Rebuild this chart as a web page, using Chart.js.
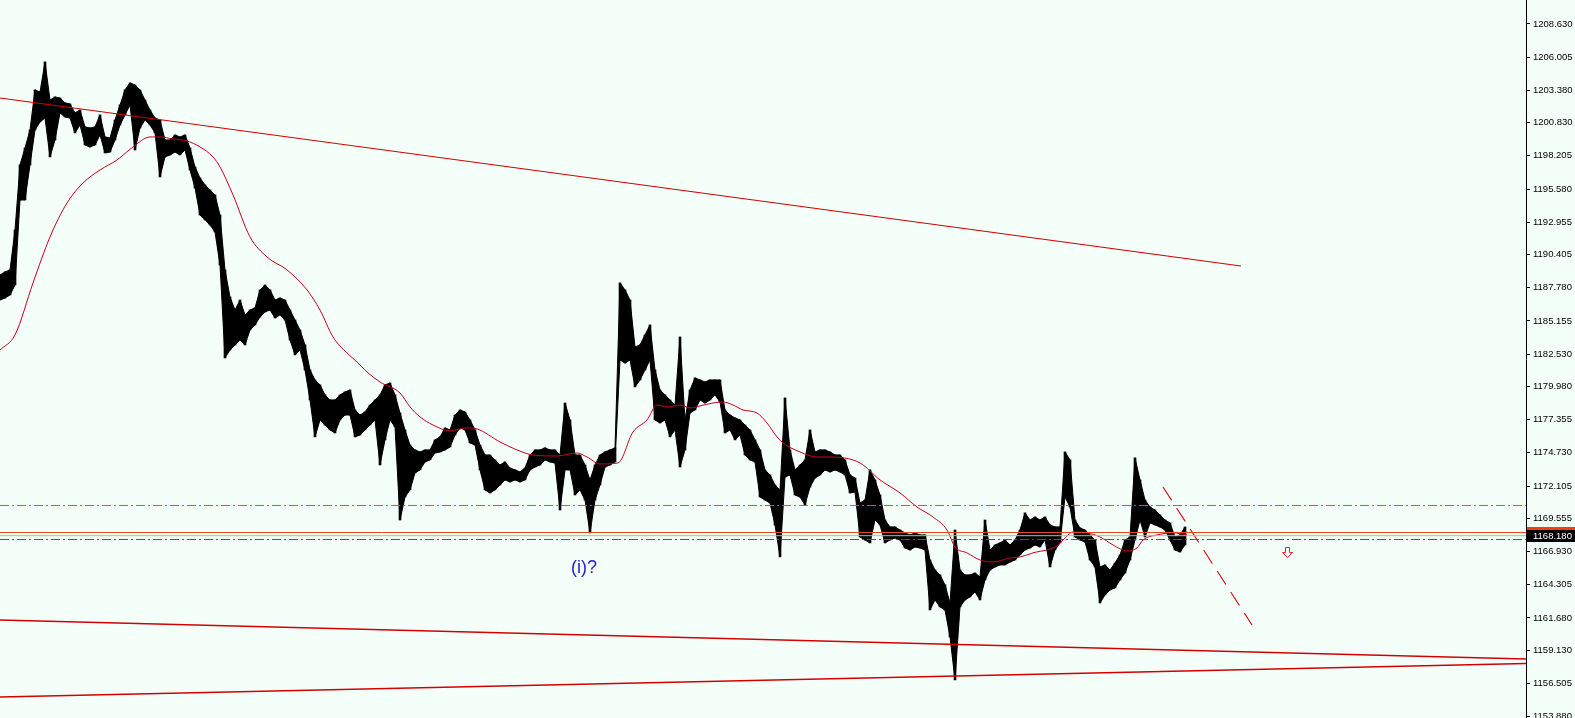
<!DOCTYPE html>
<html>
<head>
<meta charset="utf-8">
<script src="https://cdn.jsdelivr.net/npm/chart.js@4.4.1/dist/chart.umd.min.js"></script>
<style>
  html, body { margin: 0; padding: 0; background: #f5fffa; }
  #wrap { width: 1575px; height: 718px; position: relative; }
</style>
</head>
<body>
<div id="wrap"><canvas id="priceChart"></canvas></div>
<script>
// bar highs / lows, one bar per slot
const highs = [
  1188.79, 1189.03, 1189.19, 1192.35, 1197.49, 1198.83, 1200.25, 1203.42, 1203.26, 1205.63,
  1202.62, 1202.86, 1202.78, 1202.39, 1202.31, 1201.60, 1201.83, 1200.49, 1200.41, 1200.49,
  1201.44, 1199.70, 1199.62, 1201.04, 1202.23, 1203.42, 1203.97, 1203.81, 1203.42, 1202.62,
  1201.83, 1201.20, 1201.04, 1199.46, 1199.46, 1199.86, 1199.70, 1199.86, 1198.83, 1197.33,
  1196.46, 1195.91, 1195.51, 1195.12, 1193.53, 1189.19, 1187.05, 1186.02, 1186.81, 1185.63,
  1186.02, 1186.18, 1187.61, 1188.00, 1187.61, 1186.81, 1186.97, 1186.81, 1186.02, 1185.23,
  1184.44, 1183.26, 1181.28, 1180.49, 1180.10, 1179.31, 1178.91, 1178.91, 1179.31, 1179.54,
  1179.70, 1178.12, 1177.72, 1177.96, 1178.51, 1178.91, 1179.31, 1180.10, 1180.25, 1179.31,
  1177.88, 1176.54, 1175.35, 1174.96, 1174.80, 1174.96, 1174.96, 1175.75, 1175.99, 1176.70,
  1176.54, 1177.72, 1178.12, 1177.96, 1177.33, 1176.54, 1175.35, 1174.56, 1174.56, 1174.17,
  1173.77, 1174.01, 1173.53, 1173.38, 1173.22, 1173.53, 1174.56, 1174.96, 1174.96, 1175.12,
  1174.96, 1174.96, 1174.56, 1178.67, 1177.33, 1174.56, 1174.56, 1173.77, 1172.59, 1173.77,
  1174.56, 1174.80, 1174.96, 1175.12, 1188.16, 1187.61, 1186.81, 1183.10, 1183.26, 1184.05,
  1184.84, 1181.28, 1179.70, 1179.31, 1178.91, 1178.51, 1183.89, 1177.33, 1179.70, 1180.65,
  1180.49, 1180.33, 1180.49, 1180.49, 1180.49, 1178.12, 1177.72, 1177.49, 1177.33, 1176.93,
  1176.54, 1175.75, 1174.96, 1173.38, 1172.98, 1172.19, 1171.80, 1179.07, 1174.96, 1173.38,
  1173.77, 1174.17, 1176.54, 1174.80, 1174.96, 1174.96, 1174.80, 1174.56, 1174.56, 1174.17,
  1172.98, 1172.74, 1170.77, 1171.00, 1173.38, 1172.59, 1171.40, 1169.42, 1168.87, 1168.87,
  1168.63, 1168.40, 1168.24, 1168.40, 1168.24, 1168.24, 1166.26, 1165.47, 1165.08, 1164.29,
  1162.86, 1168.63, 1165.47, 1165.08, 1165.08, 1165.23, 1164.92, 1169.42, 1167.05, 1167.45,
  1167.61, 1167.84, 1167.45, 1167.84, 1168.63, 1169.98, 1169.42, 1169.66, 1169.42, 1169.66,
  1169.03, 1168.87, 1168.87, 1174.80, 1174.17, 1169.42, 1168.79, 1168.63, 1168.24, 1167.84,
  1165.71, 1165.87, 1165.47, 1166.02, 1166.66, 1167.84, 1168.08, 1174.33, 1172.59, 1171.00,
  1170.45, 1170.21, 1169.82, 1169.42, 1169.19, 1168.08, 1168.24, 1168.87
]
const lows = [
  1186.81, 1186.97, 1187.21, 1188.00, 1194.72, 1194.72, 1197.49, 1200.25, 1200.89, 1201.20,
  1198.12, 1199.46, 1201.60, 1201.28, 1201.20, 1200.02, 1200.65, 1199.07, 1198.91, 1199.07,
  1199.86, 1198.44, 1198.51, 1199.46, 1200.65, 1201.44, 1202.23, 1198.67, 1200.41, 1201.04,
  1200.65, 1200.02, 1196.54, 1198.12, 1198.28, 1198.51, 1198.28, 1198.67, 1197.09, 1195.67,
  1193.53, 1193.14, 1192.74, 1192.19, 1189.58, 1182.23, 1182.86, 1183.26, 1183.65, 1183.26,
  1184.44, 1184.84, 1185.47, 1185.87, 1186.02, 1185.39, 1185.63, 1185.23, 1183.65, 1182.47,
  1182.86, 1181.28, 1178.91, 1175.99, 1177.33, 1176.93, 1176.54, 1176.30, 1177.33, 1177.72,
  1177.72, 1175.99, 1176.14, 1176.54, 1176.93, 1177.33, 1173.77, 1175.75, 1177.33, 1176.78,
  1169.42, 1171.24, 1171.80, 1173.14, 1173.38, 1174.01, 1174.17, 1174.72, 1174.80, 1174.96,
  1175.19, 1176.14, 1176.70, 1176.54, 1175.51, 1175.35, 1173.38, 1171.80, 1171.56, 1171.80,
  1172.19, 1172.59, 1172.43, 1172.59, 1172.43, 1172.59, 1173.38, 1173.61, 1173.77, 1174.17,
  1174.01, 1173.93, 1170.21, 1173.38, 1173.38, 1171.40, 1171.80, 1171.00, 1168.40, 1171.00,
  1172.19, 1173.61, 1173.77, 1174.01, 1182.07, 1181.83, 1182.07, 1179.94, 1180.49, 1181.28,
  1182.07, 1177.33, 1177.09, 1177.33, 1175.99, 1176.54, 1173.61, 1174.96, 1177.88, 1178.12,
  1178.91, 1178.67, 1178.91, 1179.31, 1178.75, 1176.30, 1176.54, 1175.75, 1176.14, 1174.56,
  1174.17, 1174.01, 1171.24, 1171.00, 1170.77, 1169.03, 1166.50, 1172.82, 1172.98, 1171.40,
  1171.24, 1170.61, 1172.03, 1172.74, 1172.98, 1173.38, 1173.22, 1173.38, 1173.22, 1172.98,
  1171.56, 1171.64, 1168.08, 1167.84, 1167.61, 1169.42, 1169.03, 1167.61, 1167.84, 1168.00,
  1167.84, 1167.21, 1167.05, 1167.29, 1167.21, 1167.05, 1162.31, 1163.10, 1162.55, 1162.31,
  1160.18, 1156.78, 1162.55, 1163.10, 1163.34, 1163.73, 1163.10, 1164.68, 1165.47, 1165.71,
  1165.87, 1165.87, 1166.10, 1166.26, 1166.66, 1167.05, 1167.21, 1167.45, 1167.29, 1167.84,
  1165.71, 1167.05, 1167.61, 1171.24, 1170.45, 1168.08, 1167.84, 1167.68, 1166.26, 1165.71,
  1162.86, 1163.50, 1163.89, 1164.05, 1164.68, 1165.23, 1166.26, 1167.84, 1169.42, 1168.08,
  1169.19, 1169.03, 1168.87, 1168.63, 1167.84, 1167.05, 1166.89, 1167.45
]

// moving average (bar slot, price)
const maSlots = [0, 3, 6.6, 10, 13.4, 16.6, 20, 23.4, 26.6, 30, 32, 34.6, 37.4, 40, 42.6, 44, 46.6, 50, 53.4, 57.4,
  61.4, 64, 66.6, 69.4, 71.4, 73.4, 76, 80, 82, 84, 86.6, 90, 93.4, 95.4, 100, 103.4, 106.6, 111.4, 115.4, 117.4,
  120, 123.6, 126.6, 129.4, 131.4, 133.4, 136, 138, 140, 142.6, 144.6, 146.6, 148.6, 151.4, 153.4, 155.4, 156.6, 160, 163.4, 166,
  172, 176, 180, 183.4, 186.6, 189.4, 191, 193.4, 196, 198.6, 202, 204, 206.6, 211.4, 212.6, 214.6, 217.4, 220, 222.6, 225.4,
  227.4, 228.6, 231.4, 234.6, 237.4]
const maValues = [1182.86, 1184.05, 1188.16, 1191.80, 1194.48, 1196.06, 1197.09, 1197.88, 1198.91, 1199.70, 1199.70, 1199.54, 1199.38, 1198.91, 1198.12, 1197.33, 1195.12, 1191.80, 1190.21, 1189.19,
  1187.61, 1186.02, 1183.89, 1182.63, 1181.91, 1181.12, 1180.33, 1179.46, 1178.36, 1177.57, 1176.93, 1176.46, 1176.70, 1176.62, 1175.59, 1174.96, 1174.56, 1174.48, 1174.72, 1174.40,
  1173.85, 1173.93, 1176.38, 1177.33, 1178.51, 1178.36, 1178.51, 1178.28, 1178.44, 1178.67, 1178.75, 1178.51, 1178.12, 1177.88, 1177.09, 1175.99, 1175.51, 1174.80, 1174.40, 1174.40,
  1173.93, 1172.59, 1171.56, 1170.45, 1169.66, 1168.63, 1167.29, 1166.82, 1166.26, 1166.10, 1166.42, 1166.50, 1166.82, 1167.37, 1167.84, 1168.47, 1168.40, 1168.08, 1167.45, 1166.97,
  1167.21, 1167.84, 1168.24, 1168.40, 1168.24]

// trend lines: [slot, price] pairs
const upperTrend = [[0, 1202.78], [248.2, 1189.50]]
const lowerTrendA = [[0, 1161.52], [305.2, 1158.43]]
const lowerTrendB = [[0, 1155.43], [305.2, 1158.08]]
const dashedTrend = [[232.6, 1172.03], [250.4, 1161.12]]

// horizontal levels
const levelHigh = 1170.57
const levelOrder = 1168.43
const levelBid = 1168.18
const levelLow = 1167.88

const axisTicks = [1208.630, 1206.005, 1203.380, 1200.830, 1198.205, 1195.580, 1192.955, 1190.405, 1187.780,
  1185.155, 1182.530, 1179.980, 1177.355, 1174.730, 1172.105, 1169.555, 1166.930, 1164.305, 1161.680,
  1159.130, 1156.505, 1153.880]

const waveLabel = { text: '(i)?', slot: 116.8, price: 1165.63 }
const arrowMark = { slot: 257.4, price: 1166.89 }

const lastSlot = 305.2
const toPts = arr => arr.map(p => ({ x: p[0], y: p[1] }))
const flat = v => [{ x: 0, y: v }, { x: lastSlot, y: v }]

function lineSet(data, color, width, dash) {
  return {
    type: 'line', data: data, borderColor: color, borderWidth: width, borderDash: dash || [],
    pointRadius: 0, fill: false, tension: 0
  }
}

const bgPlugin = {
  id: 'bg',
  beforeDraw(chart) {
    const c = chart.ctx
    c.save()
    c.fillStyle = '#f5fffa'
    c.fillRect(0, 0, chart.width, chart.height)
    c.restore()
  }
}

const marksPlugin = {
  id: 'marks',
  afterDraw(chart) {
    const c = chart.ctx
    const xs = chart.scales.x
    const ys = chart.scales.y
    const left = chart.chartArea.right
    c.save()

    // price boxes on the axis
    const boxes = [[levelOrder, '#f04010', '#000'], [levelBid, '#000', '#fff']]
    boxes.forEach(b => {
      const y = Math.round(ys.getPixelForValue(b[0]))
      c.fillStyle = b[1]
      c.fillRect(left + 1, y - 6, chart.width - left, 12)
      c.fillStyle = b[2]
      c.font = '9.5px "Liberation Sans"'
      c.textBaseline = 'middle'
      c.textAlign = 'left'
      c.fillText(b[0].toFixed(3), left + 7, y + 0.5)
    })

    // wave label
    c.fillStyle = '#1c1ccc'
    c.font = '18px "Liberation Sans"'
    c.textAlign = 'center'
    c.textBaseline = 'middle'
    c.fillText(waveLabel.text, xs.getPixelForValue(waveLabel.slot), ys.getPixelForValue(waveLabel.price))

    // hollow down arrow
    const ax = Math.round(xs.getPixelForValue(arrowMark.slot)) + 0.5
    const ay = Math.round(ys.getPixelForValue(arrowMark.price)) + 0.5
    c.strokeStyle = '#f02020'
    c.lineWidth = 1
    c.beginPath()
    c.moveTo(ax - 2, ay - 5)
    c.lineTo(ax + 2, ay - 5)
    c.lineTo(ax + 2, ay)
    c.lineTo(ax + 5, ay)
    c.lineTo(ax, ay + 5)
    c.lineTo(ax - 5, ay)
    c.lineTo(ax - 2, ay)
    c.closePath()
    c.stroke()
    c.restore()
  }
}

const ctx = document.getElementById('priceChart')

new Chart(ctx, {
  type: 'bar',
  data: {
    datasets: [
      lineSet(flat(levelHigh), '#e4502a', 1, [9, 3, 2, 3]),
      lineSet(flat(levelBid), '#b4b4b4', 1),
      lineSet(flat(levelOrder), '#e8491c', 1),
      lineSet(flat(levelLow), '#1f7a1f', 1, [9, 3, 2, 3]),
      lineSet(toPts(upperTrend), '#d40000', 1.2),
      lineSet(toPts(lowerTrendA), '#d40000', 1.5),
      lineSet(toPts(lowerTrendB), '#d40000', 1.5),
      lineSet(toPts(dashedTrend), '#d81010', 1.2, [16, 9]),
      Object.assign(lineSet(maSlots.map((s, i) => ({ x: s, y: maValues[i] })), '#c8001e', 1),
        { cubicInterpolationMode: 'monotone' }),
      // price band: highs filled down to lows
      Object.assign(lineSet(highs.map((h, i) => ({ x: i, y: h })), '#000', 1), { fill: '+1', backgroundColor: '#000' }),
      lineSet(lows.map((l, i) => ({ x: i, y: l })), '#000', 1),
      {
        type: 'bar',
        data: highs.map((h, i) => ({ x: i, y: [lows[i], h] })),
        backgroundColor: '#000',
        borderWidth: 0,
        barThickness: 2,
        grouped: false
      }
    ]
  },
  options: {
    responsive: true,
    maintainAspectRatio: false,
    animation: false,
    devicePixelRatio: 1,
    layout: { padding: 0, autoPadding: false },
    plugins: { legend: { display: false }, tooltip: { enabled: false } },
    scales: {
      x: { type: 'linear', min: 0, max: lastSlot, offset: false, display: false },
      y: {
        position: 'right',
        min: 1153.768,
        max: 1210.527,
        afterBuildTicks: scale => { scale.ticks = axisTicks.map(v => ({ value: v })) },
        afterFit: scale => { scale.width = 49; scale.paddingTop = 0; scale.paddingBottom = 0 },
        grid: { drawOnChartArea: false, tickLength: 4, color: '#000' },
        border: { display: true, color: '#000', width: 1 },
        ticks: {
          color: '#000',
          padding: 3,
          font: { family: 'Liberation Sans', size: 9.5 },
          callback: v => Number(v).toFixed(3)
        }
      }
    }
  },
  plugins: [bgPlugin, marksPlugin]
})
</script>
</body>
</html>
